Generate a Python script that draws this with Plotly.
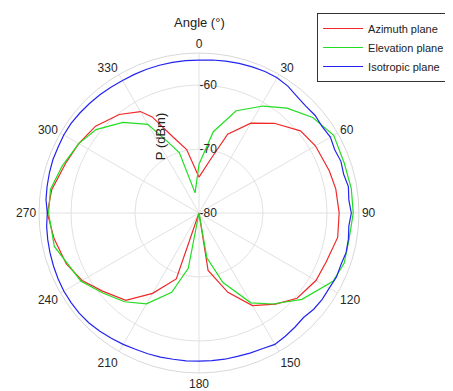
import plotly.graph_objects as go

# Azimuth plane (red)
az_theta = [0, 12, 20, 30, 40, 51, 60, 72, 80, 90, 100, 111, 120, 131, 140, 150, 160, 171, 180,
            199, 210, 220, 231, 240, 249, 260, 270, 279, 291, 300, 310, 321, 330, 334, 341, 349, 360]
az_r = [-74.4, -71.5, -66.9, -63.8, -61.7, -59.6, -59.0, -58.6, -58.3, -58.1, -58.0, -58.7, -58.9,
        -59.7, -61.4, -63.3, -66.8, -70.9, -80.0,
        -69.1, -65.5, -62.2, -60.6, -58.9, -57.8, -57.0, -56.3, -56.7, -57.8, -58.3, -58.9, -60.2,
        -61.7, -63.3, -67.4, -69.9, -74.4]

# Elevation plane (green)
el_theta = [0, 10, 20, 31, 40, 50, 60, 71, 81, 90, 100, 109, 117, 130, 141, 150, 161, 170, 180,
            191, 199, 210, 220, 230, 240, 257, 270, 279, 289, 300, 309, 320, 330, 336, 342, 349, 360]
el_r = [-72.4, -67.1, -63.0, -60.5, -58.6, -56.8, -55.7, -56.0, -55.9, -55.9, -56.2, -56.0, -56.5,
        -59.0, -61.7, -63.8, -68.5, -72.9, -80.0,
        -71.2, -66.9, -63.6, -61.9, -60.5, -58.7, -56.8, -56.5, -56.5, -57.4, -58.3, -59.3, -61.5,
        -64.0, -67.7, -70.1, -76.8, -72.4]

# Isotropic plane (blue)
iso_theta = list(range(0, 365, 5))
iso_r = [-56.1, -56.0, -55.9, -55.8, -55.7, -55.6, -55.6, -55.8, -56.2, -56.4, -56.3, -56.5,
         -56.3, -56.6, -56.4, -56.6, -56.3, -56.5, -56.2, -56.5, -56.3, -56.2, -56.4, -56.3,
         -56.5, -56.5, -56.6, -56.9, -56.7, -56.5, -56.3, -56.6, -56.7, -56.8, -56.8, -56.85,
         -56.85, -56.8, -56.8, -56.7, -56.6, -56.5, -56.3, -56.1, -55.9, -55.7, -55.6, -55.6,
         -55.6, -55.7, -55.8, -55.9, -56.0, -56.1, -56.3, -56.0, -55.9, -55.8, -55.7, -55.7,
         -55.6, -55.6, -55.7, -55.8, -55.9, -56.0, -56.1, -56.1, -56.1, -56.1, -56.1, -56.1,
         -56.1]

angle_ticks = list(range(0, 360, 30))
r_ticks = [-80, -70, -60]

FONT = "Liberation Sans, Arial, sans-serif"

fig = go.Figure()
fig.add_trace(go.Scatterpolar(r=az_r, theta=az_theta, mode="lines", name="Azimuth plane",
                              line=dict(color="#f02828", width=1.2)))
fig.add_trace(go.Scatterpolar(r=el_r, theta=el_theta, mode="lines", name="Elevation plane",
                              line=dict(color="#22dd22", width=1.2)))
fig.add_trace(go.Scatterpolar(r=iso_r, theta=iso_theta, mode="lines", name="Isotropic plane",
                              line=dict(color="#2424f0", width=1.2)))

fig.update_layout(
    width=453, height=391,
    margin=dict(l=31, r=102, t=45, b=26, autoexpand=False),
    paper_bgcolor="white",
    font=dict(family=FONT, size=12, color="#262626"),
    polar=dict(
        bgcolor="white",
        domain=dict(x=[0, 1], y=[0, 1]),
        angularaxis=dict(
            rotation=90, direction="clockwise",
            tickmode="array", tickvals=angle_ticks, ticktext=[str(a) for a in angle_ticks],
            ticks="",
            showline=True, linecolor="#d8d8d8", linewidth=1,
            gridcolor="#e2e2e2", gridwidth=1,
            tickfont=dict(size=12, color="#262626"),
        ),
        radialaxis=dict(
            range=[-80, -55], tickmode="array", tickvals=r_ticks,
            ticktext=[str(v) for v in r_ticks],
            angle=90, tickangle=90, side="clockwise", showline=False, ticks="",
            gridcolor="#e2e2e2", gridwidth=1,
            tickfont=dict(size=12, color="#262626"),
        ),
    ),
    showlegend=True,
    legend=dict(
        x=0.869, y=1.125, xanchor="left", yanchor="top",
        bgcolor="white", bordercolor="#333333", borderwidth=1,
        font=dict(size=11, color="#222222"),
        itemwidth=40, tracegroupgap=0,
    ),
    annotations=[
        dict(text="Angle (°)", x=0.5, y=1.0, xref="paper", yref="paper",
             xanchor="center", yanchor="middle",
             yshift=31, showarrow=False, font=dict(size=13, color="#222222")),
        dict(text="P (dBm)", x=0.378, y=0.74, xref="paper", yref="paper",
             xanchor="center", yanchor="middle",
             textangle=-90, showarrow=False, font=dict(size=13, color="#222222")),
    ],
)

fig.write_html("out.html")
